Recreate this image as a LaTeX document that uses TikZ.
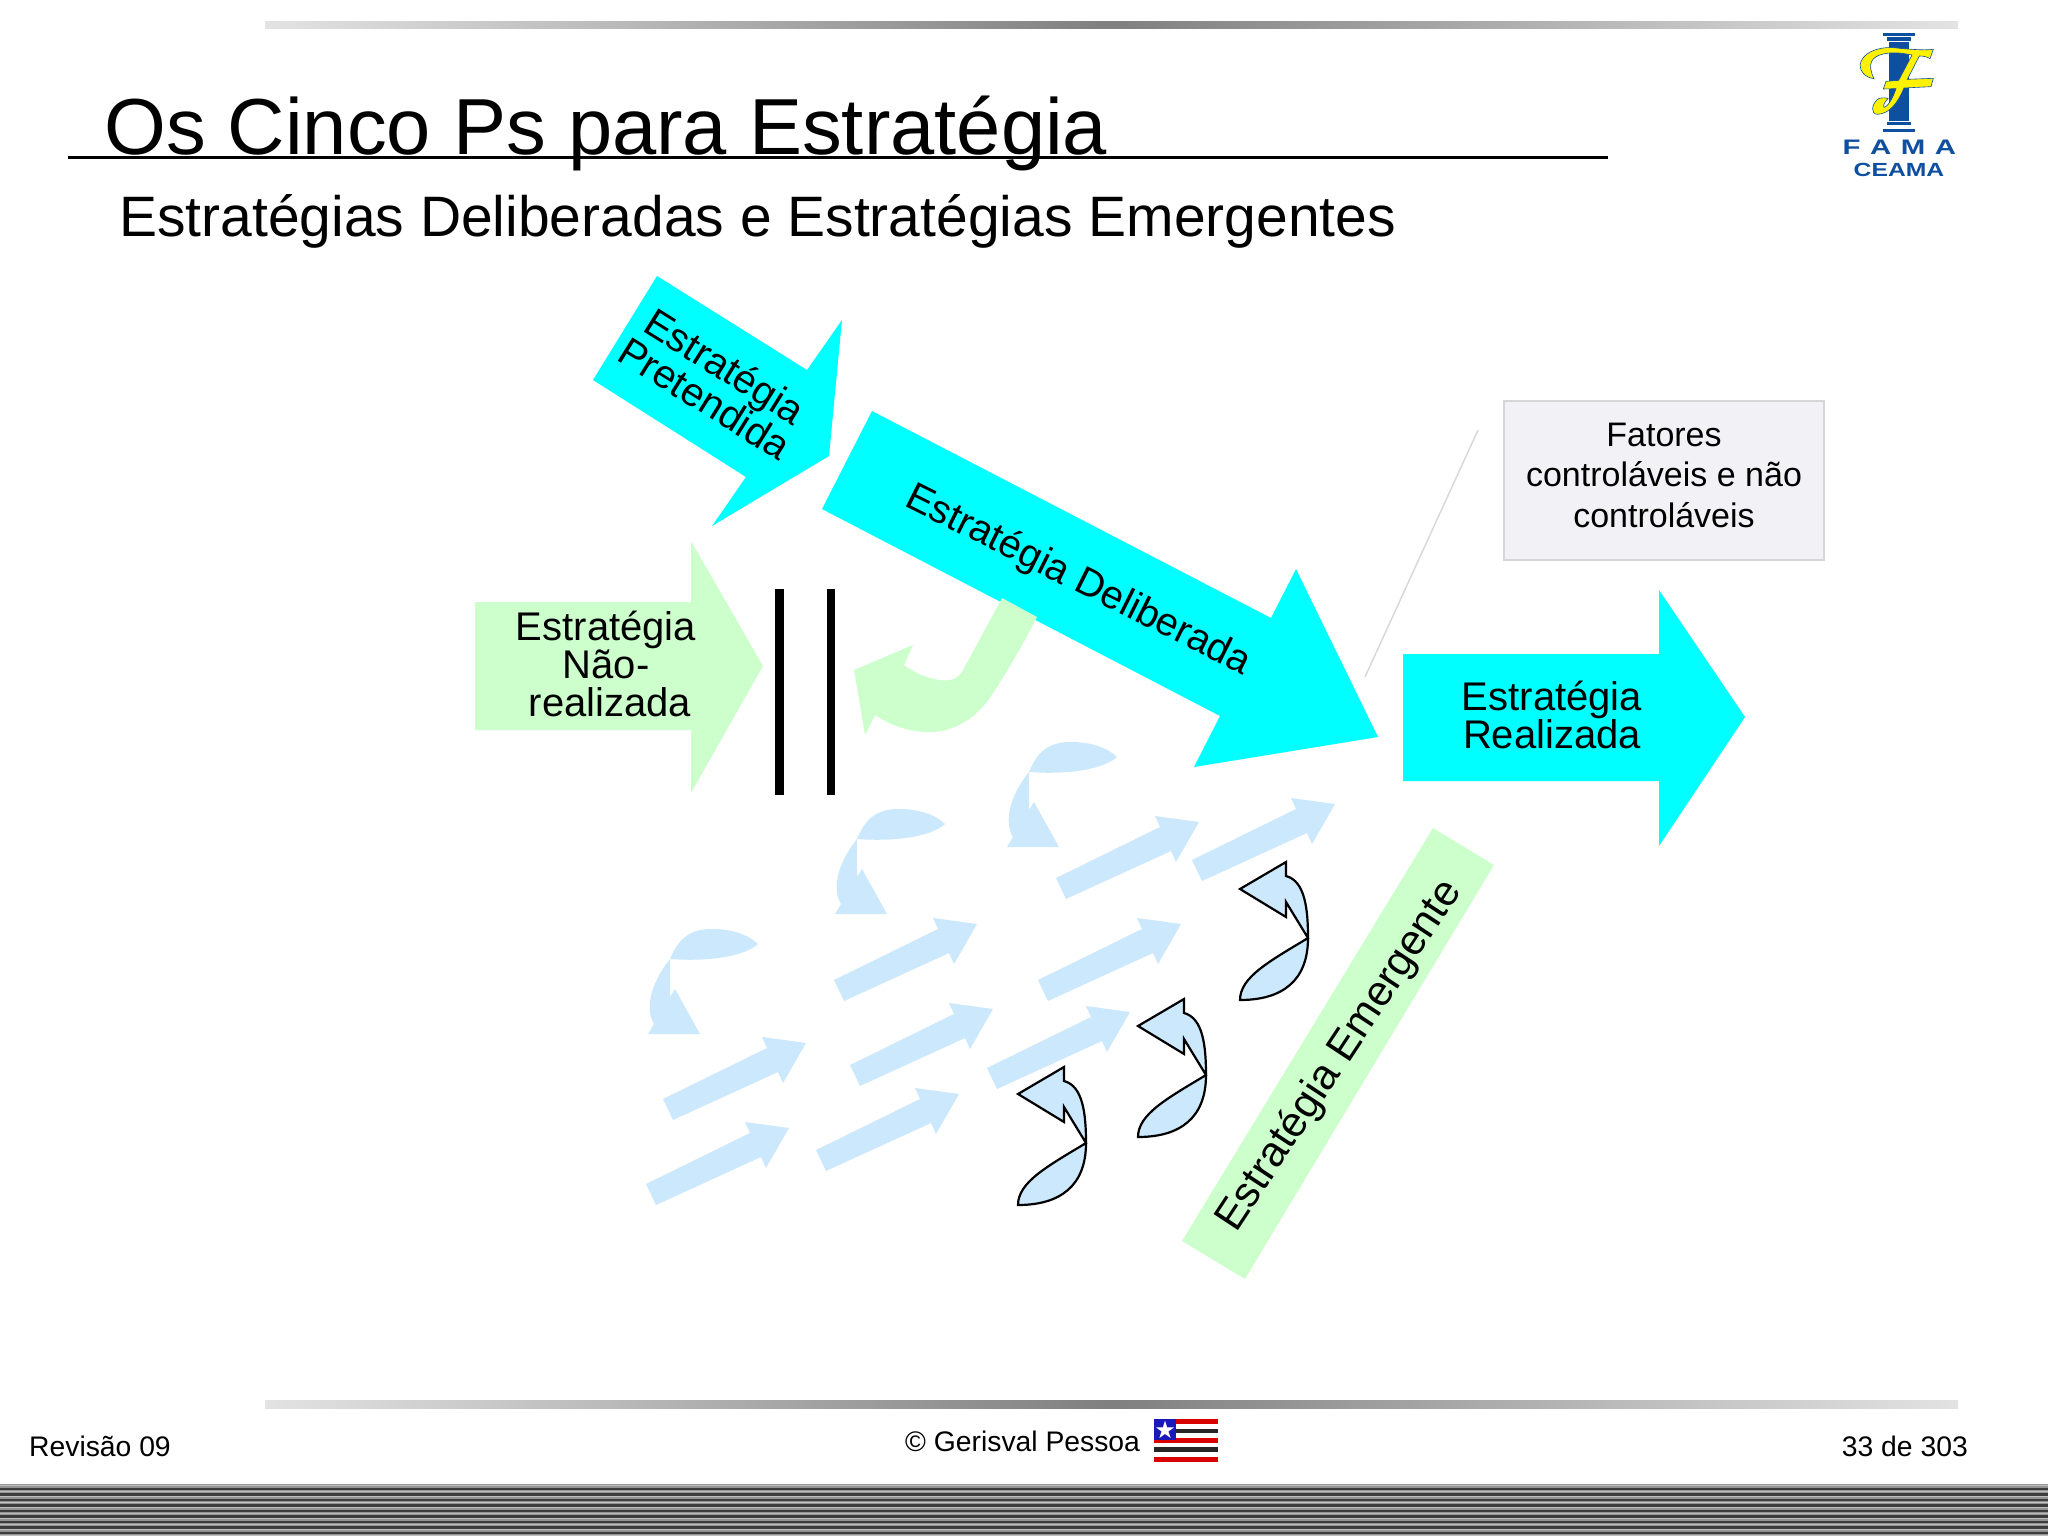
\documentclass[tikz,border=0pt]{standalone}
\usepackage{fontspec}
\setmainfont{Liberation Sans}
\newfontfamily\dejavu{DejaVu Sans}
\newfontfamily\logofama[FakeStretch=1.4]{Liberation Sans Bold}
\newfontfamily\logoceama[FakeStretch=1.3]{Liberation Sans Bold}
\definecolor{cyanarrow}{HTML}{00FFFF}
\definecolor{mint}{HTML}{CCFFCC}
\definecolor{paleblue}{HTML}{CCE8FC}
\definecolor{logoblue}{HTML}{0F4FA0}
\definecolor{logoyellow}{HTML}{FFF200}
\definecolor{boxfill}{HTML}{F2F2F6}
\definecolor{boxedge}{HTML}{D6D6D6}
\tikzset{
  block/.style={fill=#1,draw=none},
  label text/.style={font=\fontsize{40}{38}\selectfont,align=center,inner sep=0pt,text=black},
  footer text/.style={font=\fontsize{28.3}{30}\selectfont,inner sep=0pt,anchor=base},
  fade bar/.style={left color=#1,right color=#1,middle color=gray,draw=none},
  pics/flow/.style={code={
    \fill[paleblue] (-143,56)--(-133,77)--(-28,29)--(-23,40)--(0,0)--(-44,-6)--(-39,5)--cycle;}},
  pics/turn/.style={code={
    \fill[paleblue] (0,0) .. controls (10,-25) and (25,-30) .. (42,-30)
      .. controls (60,-30) and (78,-25) .. (88,-15)
      .. controls (75,-3) and (40,3) .. (0,0)
      --(0,38)--(5,30)--(30,75)--(-22,75)--(-16,65)
      .. controls (-25,50) and (-20,25) .. (0,0)--cycle;}},
  pics/turnline/.style={code={
    \draw[fill=paleblue,draw=black,line width=2.2pt,line join=miter]
      (0,0)--(46,-27)--(46,-13) .. controls (65,-8) and (68,20) .. (68,49)
      .. controls (68,92) and (42,111) .. (0,111)
      .. controls (0,88) and (30,72) .. (68,49)
      --(46,13)--(46,28)--cycle;}},
}
\begin{document}
\begin{tikzpicture}[x=1pt,y=-1pt]
\useasboundingbox (0,0) rectangle (2048,1536);
\fill[white] (0,0) rectangle (2048,1536);
% bars
\shade[fade bar=gray!22] (265,22) rectangle (1958,29);
\shade[fade bar=gray!22] (265,1400) rectangle (1958,1408);
% stripes
\fill[gray!85] (0,1484) rectangle (2048,1536);
\foreach \i in {0,...,9}{
  \fill[black!76] (0,1487.5+5.5*\i) rectangle (2048,1490.3+5.5*\i);
  \fill[gray!50] (0,1485+5.5*\i) rectangle (2048,1486.4+5.5*\i);
}
% title
\node[inner sep=0pt,anchor=base west,font=\fontsize{79.5}{80}\selectfont] (title) at (104,154) {Os Cinco Ps para Estratégia};
\coordinate (ruleL) at (68,158);
\coordinate (ruleR) at (1608,158);
\draw[line width=3pt] (ruleL)--(ruleR);
\node[inner sep=0pt,anchor=base west,font=\fontsize{57}{58}\selectfont] (subtitle) at (119,236) {Estratégias Deliberadas e Estratégias Emergentes};
% logo
\begin{scope}[shift={(1780,0)},x=0.3333pt,y=-0.3333pt]
  \fill[logoblue] (310,98) rectangle (405,108);
  \fill[logoblue] (320,112) rectangle (394,122);
  \fill[logoblue] (327,125) rectangle (387,362);
  \fill[logoblue] (320,366) rectangle (394,376);
  \fill[logoblue] (310,388) rectangle (405,397);
  \fill[logoyellow,draw=logoblue,line width=.6pt]
    (240,195) .. controls (245,160) and (290,140) .. (340,143)
    .. controls (380,147) and (430,152) .. (460,148)
    -- (450,176) .. controls (440,170) and (430,168) .. (418,168)
    -- (382,238) -- (460,235) -- (453,260) -- (372,264)
    .. controls (355,305) and (330,342) .. (292,343)
    .. controls (272,342) and (275,315) .. (290,300)
    .. controls (298,292) and (315,292) .. (324,296)
    .. controls (315,305) and (308,315) .. (312,322)
    .. controls (325,320) and (340,290) .. (348,266)
    -- (310,267) -- (318,244) -- (356,241)
    -- (396,165) .. controls (370,160) and (340,155) .. (310,162)
    .. controls (275,170) and (260,190) .. (282,236)
    .. controls (255,232) and (240,215) .. (240,195) -- cycle;
  \node[inner sep=0pt,text=logoblue,font=\logofama\fontsize{21}{22}\selectfont] (fama) at (358,443) {F\hspace{9.5pt}A\hspace{9.5pt}M\hspace{9.5pt}A};
  \node[inner sep=0pt,text=logoblue,font=\logoceama\fontsize{19}{20}\selectfont] (ceama) at (357,510) {CEAMA};
\end{scope}
% pale arrows
\foreach \p in {(1335,804),(1199,822),(1181,924),(977,924),(1130,1012),(993,1009),(806,1043),(959,1094),(789,1128)}
  \pic at \p {flow};
\foreach \p in {(1029,772),(857,839),(670,959)}
  \pic at \p {turn};
% strategy arrows
\fill[block=mint] (1433,828)--(1494,865)--(1245,1279)--(1182,1241)--cycle;
\node[label text,font=\fontsize{42.5}{38}\selectfont,rotate=56.6] (emergente) at (1340,1056) {Estratégia Emergente};
\fill[block=cyanarrow] (872,411)--(1271,618)--(1296,569)--(1378,737)--(1194,767)--(1220,716)--(822,509)--cycle;
\node[label text,font=\fontsize{39.5}{38}\selectfont,rotate=-26.5] (deliberada) at (1078,581) {Estratégia Deliberada};
\fill[block=cyanarrow] (657,276)--(807,370)--(842,320)--(829,456)--(712,526)--(746,477)--(593,380)--cycle;
\node[label text,rotate=-32] (pretendida) at (715,382) {Estratégia\\Pretendida};
\fill[block=mint] (475,602)--(691,602)--(691,541)--(763,666)--(691,793)--(691,730)--(475,730)--cycle;
\node[label text] (naorealizada) at (606,664) {Estratégia\\Não-\\\hspace*{8pt}realizada};
\fill[block=cyanarrow] (1403,654)--(1659,654)--(1659,590)--(1745,717)--(1659,846)--(1659,781)--(1403,781)--cycle;
\node[label text] (realizada) at (1552,715) {Estratégia\\Realizada};
% barrier
\fill[black] (775,589) rectangle (784,795);
\fill[black] (826.5,589) rectangle (835,795);
% green return arrow
\fill[block=mint] (1002,598)--(1037,617) .. controls (1020,650) and (1005,675) .. (993,693)
  .. controls (975,722) and (950,732) .. (930,732)
  .. controls (908,732) and (890,725) .. (875,715)
  --(865,735)--(854,670)--(913,645)--(904,665)
  .. controls (920,677) and (940,682) .. (950,680)
  .. controls (955,679) and (958,677) .. (962,672)--cycle;
% emergent outlined
\foreach \p in {(1240,889),(1138,1026),(1018,1094)}
  \pic at \p {turnline};
% factors
\node[draw=boxedge,fill=boxfill,line width=2pt,minimum width=320pt,minimum height=159pt,inner sep=0pt] (fatores) at (1664,480) {};
\node[align=center,font=\fontsize{34}{40.5}\selectfont,inner sep=0pt] (fatorestext) at ([yshift=5pt]fatores.center) {Fatores\\controláveis e não\\controláveis};
\coordinate (leadA) at (1478,430);
\coordinate (leadB) at (1365,677);
\draw[gray!30,line width=1.5pt] (leadA)--(leadB);
% footer
\node[footer text,anchor=base west] (rev) at (29,1456) {Revisão 09};
\node[footer text,anchor=base east] (page) at (1968,1456) {33 de 303};
\node[footer text,anchor=base west] (copy) at (905,1451) {© Gerisval Pessoa};
% flag
\begin{scope}[shift={(1154,1419)}]
  \fill[red!85!black] (0,0) rectangle (64,5);
  \fill[black!85] (0,9.5) rectangle (64,14);
  \fill[red!85!black] (0,19) rectangle (64,23.5);
  \fill[black!85] (0,28) rectangle (64,32.5);
  \fill[red!85!black] (0,37.5) rectangle (64,42.5);
  \fill[blue!70!black!90] (0,0) rectangle (22,21);
  \node[inner sep=0pt,text=white,font=\dejavu\fontsize{24}{24}\selectfont] (star) at (11,10.5) {★};
\end{scope}
\end{tikzpicture}
\end{document}
